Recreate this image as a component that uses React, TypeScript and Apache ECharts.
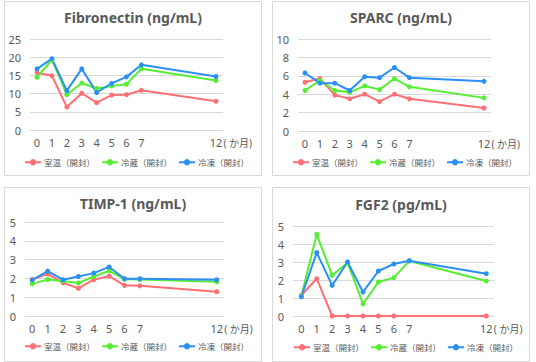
import React, { useEffect, useRef } from "react";
import * as echarts from "echarts";

const months = [0, 1, 2, 3, 4, 5, 6, 7, 12];
const seriesNames = ["室温（開封）", "冷蔵（開封）", "冷凍（開封）"];
const colors = ["#FF6F73", "#55EE33", "#2B8FF5"];

const titles = ["Fibronectin (ng/mL)", "SPARC (ng/mL)", "TIMP-1 (ng/mL)", "FGF2 (pg/mL)"];

const fibRoom = [15.8, 14.9, 6.3, 10.1, 7.5, 9.6, 9.7, 10.9, 7.9];
const fibFridge = [14.5, 19.3, 9.7, 12.9, 11.4, 12.1, 12.6, 16.8, 13.6];
const fibFrozen = [16.8, 19.6, 10.8, 16.8, 10.3, 12.8, 14.6, 17.9, 14.7];

const sparcRoom = [5.3, 5.7, 3.9, 3.5, 4.0, 3.2, 4.0, 3.5, 2.5];
const sparcFridge = [4.4, 5.5, 4.4, 4.2, 4.9, 4.5, 5.7, 4.8, 3.6];
const sparcFrozen = [6.3, 5.2, 5.2, 4.4, 5.9, 5.8, 6.9, 5.8, 5.4];

const timpRoom = [1.94, 2.24, 1.77, 1.47, 1.93, 2.12, 1.63, 1.61, 1.29];
const timpFridge = [1.71, 1.94, 1.86, 1.75, 2.1, 2.4, 1.96, 1.94, 1.82];
const timpFrozen = [1.91, 2.39, 1.93, 2.1, 2.28, 2.61, 1.98, 1.98, 1.93];

const fgfRoom = [1.15, 2.07, 0, 0, 0, 0, 0, null, 0];
const fgfFridge = [1.11, 4.54, 2.26, 2.96, 0.67, 1.89, 2.13, 3.06, 1.94];
const fgfFrozen = [1.07, 3.52, 1.7, 3.0, 1.33, 2.5, 2.89, 3.07, 2.35];

const yMax = [25, 10, 5, 5];
const yStep = [5, 2, 1, 1];
const xTickLabels = [0, 1, 2, 3, 4, 5, 6, 7, 12];
const unitLabel = "( か月)";

const panelData = [
  [fibRoom, fibFridge, fibFrozen],
  [sparcRoom, sparcFridge, sparcFrozen],
  [timpRoom, timpFridge, timpFrozen],
  [fgfRoom, fgfFridge, fgfFrozen],
];

// layout
const panels = [
  { x: 4, y: 1, w: 257, h: 174 },
  { x: 272, y: 1, w: 257, h: 174 },
  { x: 4, y: 187, w: 257, h: 174 },
  { x: 272, y: 187, w: 257, h: 174 },
];
const grids = [
  { left: 30, top: 39, width: 193, height: 91, xmin: -0.47, xmax: 12.47 },
  { left: 298, top: 39, width: 193, height: 92, xmin: -0.47, xmax: 12.47 },
  { left: 25, top: 222, width: 199, height: 94, xmin: -0.47, xmax: 12.47 },
  { left: 293, top: 226, width: 201, height: 90, xmin: -0.54, xmax: 12.5 },
];
const titlePos = [
  { x: 133, y: 10 },
  { x: 401, y: 10 },
  { x: 133, y: 196 },
  { x: 401, y: 197 },
];
const legendPos = [
  { left: 24, top: 158 },
  { left: 292, top: 158 },
  { left: 24, top: 342 },
  { left: 293, top: 343 },
];

const textColor = "#595959";
const font = "'Noto Sans', 'Noto Sans CJK JP', sans-serif";

export default function App() {
  const ref = useRef<HTMLDivElement>(null);
  useEffect(() => {
    if (!ref.current) return;
    const chart = echarts.init(ref.current, undefined, { renderer: "svg" });

    const graphic: any[] = panels.map((p) => ({
      type: "rect",
      shape: { x: p.x + 0.5, y: p.y + 0.5, width: p.w, height: p.h },
      style: { fill: "#ffffff", stroke: "#d9d9d9", lineWidth: 1 },
      z: -10,
      silent: true,
    }));

    const title = titles.map((t, i) => ({
      text: t,
      left: titlePos[i].x,
      top: titlePos[i].y,
      textAlign: "center",
      padding: 0,
      textStyle: { color: textColor, fontSize: 14, fontWeight: "bold", fontFamily: font },
    }));

    const grid = grids.map((g) => ({
      left: g.left,
      top: g.top,
      width: g.width,
      height: g.height,
      containLabel: false,
    }));

    const xAxis = grids.map((g, i) => ({
      type: "value",
      gridIndex: i,
      min: g.xmin,
      max: g.xmax,
      axisLine: { show: false },
      axisTick: { show: false },
      splitLine: { show: false },
      axisLabel: {
        customValues: xTickLabels,
        color: textColor,
        fontSize: 11,
        fontFamily: font,
        margin: 7,
        formatter: (v: number) =>
          v === 12 ? "{pad|}{n|12}{u|" + unitLabel + "}" : "{n|" + v + "}",
        rich: {
          n: { fontSize: 11, color: textColor, fontFamily: font },
          u: { fontSize: 10, color: textColor, fontFamily: font, width: 31 },
          pad: { width: 31 },
        },
      },
    }));

    const yAxis = grids.map((g, i) => ({
      type: "value",
      gridIndex: i,
      min: 0,
      max: yMax[i],
      interval: yStep[i],
      axisLine: { show: false },
      axisTick: { show: false },
      splitLine: { lineStyle: { color: "#d9d9d9", width: 1 } },
      axisLabel: { color: textColor, fontSize: 11, fontFamily: font, margin: 9 },
    }));

    const series: any[] = [];
    panelData.forEach((sets, pi) => {
      sets.forEach((vals, si) => {
        series.push({
          type: "line",
          name: seriesNames[si],
          xAxisIndex: pi,
          yAxisIndex: pi,
          data: months.map((m, k) => [m, vals[k]]),
          connectNulls: true,
          symbol: "circle",
          symbolSize: 5,
          showSymbol: true,
          lineStyle: { color: colors[si], width: 2 },
          itemStyle: { color: colors[si] },
          emphasis: { disabled: true },
        });
      });
    });

    const legend = legendPos.map((lp) => ({
      left: lp.left,
      top: lp.top,
      width: 240,
      data: seriesNames,
      itemWidth: 16,
      itemHeight: 8,
      itemGap: 6,
      padding: 0,
      selectedMode: false,
      textStyle: { color: textColor, fontSize: 8.5, fontFamily: font, padding: [0, 0, 0, -2] },
    }));

    chart.setOption({
      animation: false,
      backgroundColor: "#ffffff",
      graphic,
      title,
      grid,
      xAxis,
      yAxis,
      series,
      legend,
    });
    return () => chart.dispose();
  }, []);
  return (
    <div
      ref={ref}
      style={{ position: "fixed", left: 0, top: 0, width: 536, height: 362, background: "#fff" }}
    />
  );
}
